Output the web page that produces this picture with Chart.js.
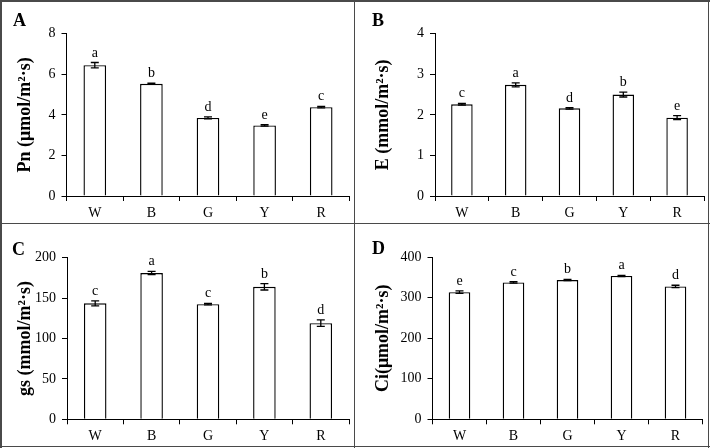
<!DOCTYPE html>
<html>
<head>
<meta charset="utf-8">
<script src="https://cdn.jsdelivr.net/npm/chart.js@4.4.1/dist/chart.umd.min.js"></script>
<style>
  html, body { margin: 0; padding: 0; background: #fff; }
  #wrap { position: relative; width: 710px; height: 448px; background: #fff; overflow: hidden; }
  canvas { position: absolute; }
  .ln { position: absolute; background: #4a4a4a; z-index: 5; }
</style>
</head>
<body>
<div id="wrap">
  <canvas id="cA" width="355" height="224" style="left:0;top:0"></canvas>
  <canvas id="cB" width="355" height="224" style="left:355px;top:0"></canvas>
  <canvas id="cC" width="355" height="224" style="left:0;top:224px"></canvas>
  <canvas id="cD" width="355" height="224" style="left:355px;top:224px"></canvas>
  <div class="ln" style="left:0;top:0;width:710px;height:1.5px"></div>
  <div class="ln" style="left:0;top:445.5px;width:710px;height:1.5px"></div>
  <div class="ln" style="left:0;top:0;width:1.5px;height:448px"></div>
  <div class="ln" style="left:707.5px;top:0;width:1.5px;height:448px"></div>
  <div class="ln" style="left:353.5px;top:0;width:1.5px;height:448px"></div>
  <div class="ln" style="left:0;top:222.8px;width:710px;height:1.5px"></div>
</div>
<script>
// ---- data ----
const categories = ['W', 'B', 'G', 'Y', 'R'];

const pnValues = [6.45, 5.53, 3.85, 3.48, 4.38];
const pnErrors = [0.13, 0.03, 0.05, 0.04, 0.04];
const pnLetters = ['a', 'b', 'd', 'e', 'c'];

const eValues = [2.26, 2.74, 2.16, 2.50, 1.93];
const eErrors = [0.02, 0.05, 0.02, 0.06, 0.05];
const eLetters = ['c', 'a', 'd', 'b', 'e'];

const gsValues = [143.5, 181, 142.5, 164, 119];
const gsErrors = [3, 2, 1, 4, 4];
const gsLetters = ['c', 'a', 'c', 'b', 'd'];

const ciValues = [314, 338, 344, 354, 328];
const ciErrors = [3, 2, 1.5, 1.5, 3];
const ciLetters = ['e', 'c', 'b', 'a', 'd'];

const panelLabels = ['A', 'B', 'C', 'D'];
const axisTitles = ['Pn (\u03bcmol/m\u00b2\u00b7s)', 'E (mmol/m\u00b2\u00b7s)', 'gs (mmol/m\u00b2\u00b7s)', 'Ci(\u03bcmol/m\u00b2\u00b7s)'];
const yMax = [8, 4, 200, 400];
const yStep = [2, 1, 50, 100];

// ---- drawing ----
const SERIF = "'Liberation Serif', 'Times New Roman', serif";

const errorPlugin = {
  id: 'errLetters',
  afterDatasetsDraw(chart) {
    const ctx = chart.ctx;
    const ys = chart.scales.y;
    const ds = chart.data.datasets[0];
    const meta = chart.getDatasetMeta(0);
    ctx.save();
    ctx.strokeStyle = '#000';
    ctx.lineWidth = 1.3;
    meta.data.forEach((bar, i) => {
      const v = ds.data[i], e = ds.errors[i];
      const x = bar.x;
      const yTop = ys.getPixelForValue(v + e);
      const yBot = ys.getPixelForValue(v - e);
      ctx.beginPath();
      ctx.moveTo(x, yTop); ctx.lineTo(x, yBot);
      ctx.moveTo(x - 4, yTop); ctx.lineTo(x + 4, yTop);
      ctx.moveTo(x - 4, yBot); ctx.lineTo(x + 4, yBot);
      ctx.stroke();
      ctx.fillStyle = '#000';
      ctx.font = '14px ' + SERIF;
      ctx.textAlign = 'center';
      ctx.textBaseline = 'alphabetic';
      ctx.fillText(ds.letters[i], x, yTop - 6);
    });
    const o = chart.options.plugins.errLetters;
    ctx.font = 'bold 18px ' + SERIF;
    ctx.textAlign = 'left';
    ctx.fillText(o.label, o.lx, o.ly);
    ctx.restore();
  }
};

function makeChart(id, idx, values, errors, letters, area) {
  const [left, right, top, bottom, titlePad, lx, ly] = area;
  return new Chart(document.getElementById(id), {
    type: 'bar',
    data: {
      labels: categories,
      datasets: [{
        data: values,
        errors: errors,
        letters: letters,
        backgroundColor: '#ffffff',
        borderColor: '#000000',
        borderWidth: 1.4,
        barPercentage: 0.4,
        categoryPercentage: 1.0
      }]
    },
    options: {
      responsive: false,
      devicePixelRatio: 1,
      animation: false,
      layout: { padding: { left: 0, top: top, right: 355 - right, bottom: 0 } },
      plugins: {
        legend: { display: false },
        tooltip: { enabled: false },
        errLetters: { label: panelLabels[idx], lx: lx, ly: ly }
      },
      scales: {
        x: {
          offset: true,
          grid: { display: true, offset: true, drawOnChartArea: false, drawTicks: true, tickLength: 5, color: '#000', lineWidth: 1 },
          border: { display: true, color: '#000', width: 1 },
          ticks: { color: '#000', font: { family: SERIF, size: 14 }, padding: 4 },
          afterFit: (s) => { s.height = 224 - bottom; }
        },
        y: {
          min: 0,
          max: yMax[idx],
          ticks: { stepSize: yStep[idx], color: '#000', font: { family: SERIF, size: 14 }, padding: 6 },
          grid: { display: true, drawOnChartArea: false, drawTicks: true, tickLength: 5, color: '#000', lineWidth: 1 },
          border: { display: true, color: '#000', width: 1 },
          title: { display: true, text: axisTitles[idx], color: '#000', font: { family: SERIF, size: 18, weight: 'bold' }, padding: { top: titlePad, bottom: 0 } },
          afterFit: (s) => { s.width = left; }
        }
      }
    },
    plugins: [errorPlugin]
  });
}

makeChart('cA', 0, pnValues, pnErrors, pnLetters, [66.5, 349.5, 33.7, 196, 15, 13, 26]);
makeChart('cB', 1, eValues, eErrors, eLetters, [80, 349, 33.7, 196, 18, 17, 26]);
makeChart('cC', 2, gsValues, gsErrors, gsLetters, [67, 349, 33.7, 195.3, 15, 12, 31]);
makeChart('cD', 3, ciValues, ciErrors, ciLetters, [77.5, 347.5, 33.3, 195.3, 18, 17, 30]);
</script>
</body>
</html>
